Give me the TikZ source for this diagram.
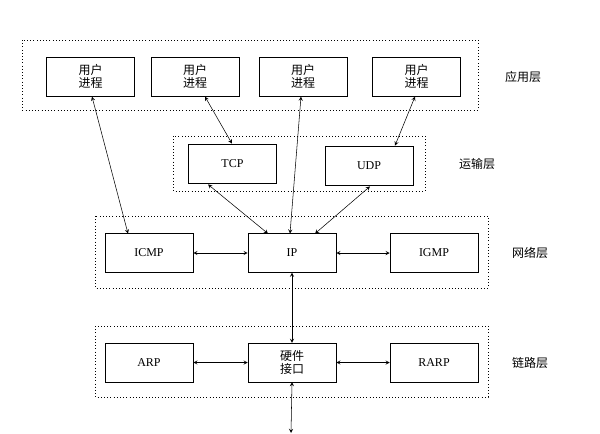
\documentclass[tikz,border=0pt]{standalone}
\usepackage{fontspec}
\setmainfont{Liberation Serif}
\newfontfamily\cjk{Noto Sans CJK SC}
\begin{document}
\begin{tikzpicture}[x=0.75pt,y=-0.75pt,
  box/.style={draw,thin,minimum width=66pt,minimum height=29pt,inner sep=0pt,align=center,font=\fontsize{9}{10}\selectfont,fill=white},
  grp/.style={draw,dotted,thin},
  lay/.style={font=\cjk\fontsize{9}{10}\selectfont},
  arr/.style={<->,>=stealth,thin}]
\useasboundingbox (0,0) rectangle (600,433);
\draw[grp] (22,40) rectangle (478,110);
\draw[grp] (173,136) rectangle (425,191);
\draw[grp] (95,216) rectangle (488,288);
\draw[grp] (95,326) rectangle (488,397);
\node[box] (u1) at (90.5,76.5) {\cjk 用户\\\cjk 进程};
\node[box] (u2) at (195,76.5) {\cjk 用户\\\cjk 进程};
\node[box] (u3) at (303,76.5) {\cjk 用户\\\cjk 进程};
\node[box] (u4) at (416.5,76.5) {\cjk 用户\\\cjk 进程};
\node[box] (tcp) at (232.5,164) {TCP};
\node[box] (udp) at (369,166) {UDP};
\node[box] (icmp) at (149,253) {ICMP};
\node[box] (ip) at (292,253) {IP};
\node[box] (igmp) at (434,253) {IGMP};
\node[box] (arp) at (149,362.5) {ARP};
\node[box] (hw) at (292,362.5) {\cjk 硬件\\\cjk 接口};
\node[box] (rarp) at (434,362.5) {RARP};
\node[lay] (l1) at (523,77) {应用层};
\node[lay] (l2) at (477,164) {运输层};
\node[lay] (l3) at (530,253) {网络层};
\node[lay] (l4) at (530,363) {链路层};
\coordinate (bot) at (291,433);
\draw[arr] (92,96.6) -- (128,233.6);
\draw[arr] (205,96.6) -- (232,143.6);
\draw[arr] (301,96.6) -- (290,233.6);
\draw[arr] (415,96.6) -- (395,145.6);
\draw[arr] (208,184.4) -- (268,233.6);
\draw[arr] (370,186.4) -- (315,233.6);
\draw[arr] (icmp) -- (ip);
\draw[arr] (ip) -- (igmp);
\draw[arr] (ip.south) -- (hw.north);
\draw[arr] (arp) -- (hw);
\draw[arr] (hw) -- (rarp);
\draw[arr] (hw.south) -- (bot);
\end{tikzpicture}
\end{document}
